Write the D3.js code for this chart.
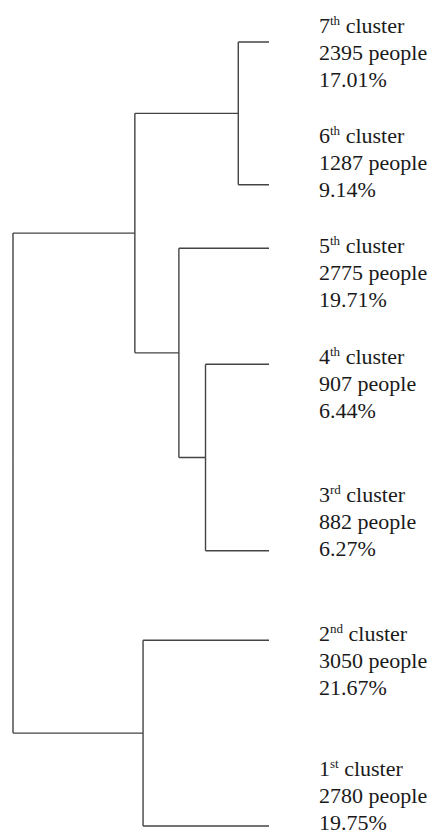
<!DOCTYPE html>
<html>
<head>
<meta charset="utf-8">
<script src="https://cdn.jsdelivr.net/npm/d3@7"></script>
<style>
  body { margin: 0; background: #fff; }
  svg { display: block; }
  .lbl { font-family: "Liberation Serif", Tinos, "Noto Serif", "DejaVu Serif", FreeSerif, Times, serif; font-size: 22px; }
</style>
</head>
<body>
<div class="dendro"></div>
<script>
// Dendrogram of the seven clusters (leaves listed top to bottom).

var leafIds  = ["c7", "c6", "c5", "c4", "c3", "c2", "c1"];
var ordNum   = ["7", "6", "5", "4", "3", "2", "1"];
var ordSuf   = ["th", "th", "th", "th", "rd", "nd", "st"];
var people   = [2395, 1287, 2775, 907, 882, 3050, 2780];
var shares   = ["17.01%", "9.14%", "19.71%", "6.44%", "6.27%", "21.67%", "19.75%"];
var leafPos  = [0, 18.2, 26.3, 41.1, 64.9, 76.3, 100];   // position along the leaf axis

// merges: [id, childA, childB, linkage height]
var merges = [
  ["m1", "c7", "c6", 3.0],
  ["m2", "c4", "c3", 6.2],
  ["m3", "c5", "m2", 8.8],
  ["m4", "m1", "m3", 13.1],
  ["m5", "c2", "c1", 12.3],
  ["m6", "m4", "m5", 25]
];

// label block shift (first line centre relative to leaf line), layout only
var labelShift = [-17, -50, -3, -8, -57, -7, -58];

var width = 442, height = 834;

var svg = d3.select(".dendro").append("svg")
  .attr("width", width)
  .attr("height", height);

var x = d3.scaleLinear().domain([0, 25]).range([269, 13]),
    y = d3.scaleLinear().domain([0, 100]).range([42, 826]);

var nodes = {};
leafIds.forEach(function(id, i) {
  nodes[id] = {h: 0, p: leafPos[i]};
});
merges.forEach(function(m) {
  var a = nodes[m[1]], b = nodes[m[2]];
  nodes[m[0]] = {h: m[3], p: (a.p + b.p) / 2, a: a, b: b};
});

var path = d3.path();
merges.forEach(function(m) {
  var n = nodes[m[0]];
  [n.a, n.b].forEach(function(c) {
    path.moveTo(x(n.h), y(c.p));
    path.lineTo(x(c.h), y(c.p));
  });
  path.moveTo(x(n.h), y(n.a.p));
  path.lineTo(x(n.h), y(n.b.p));
});

svg.append("path")
  .attr("d", path.toString())
  .attr("fill", "none")
  .attr("stroke", "#444")
  .attr("stroke-width", 1.4);

var lineGap = 27;

var labels = svg.selectAll(".lbl")
  .data(leafIds)
  .enter().append("text")
    .attr("class", "lbl")
    .attr("x", 319)
    .attr("y", function(d, i) { return y(leafPos[i]) + labelShift[i] + 8; })
    .attr("fill", "#1a1a1a");

labels.each(function(d, i) {
  var t = d3.select(this), y0 = +t.attr("y");
  t.append("tspan").text(ordNum[i]);
  t.append("tspan")
    .attr("dy", -8)
    .style("font-size", "13px")
    .text(ordSuf[i]);
  t.append("tspan")
    .attr("dy", 8)
    .text(" cluster");
  t.append("tspan")
    .attr("x", 319)
    .attr("y", y0 + lineGap)
    .text(people[i] + " people");
  t.append("tspan")
    .attr("x", 319)
    .attr("y", y0 + lineGap * 2)
    .text(shares[i]);
});
</script>
</body>
</html>
